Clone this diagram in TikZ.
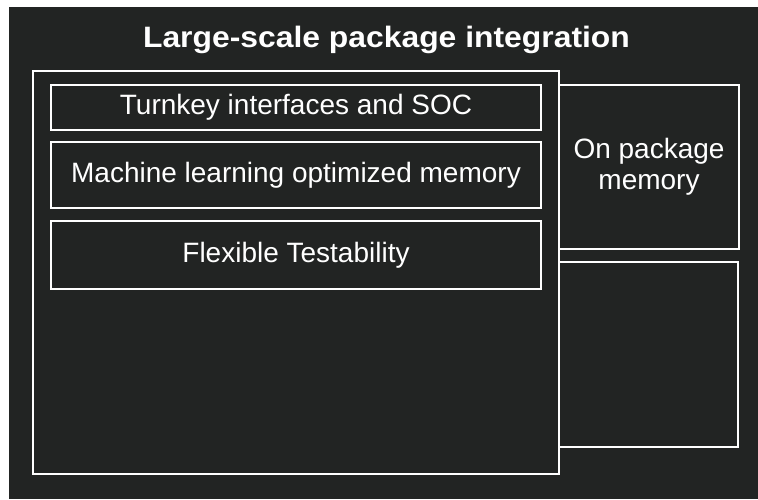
\documentclass[tikz,border=0pt]{standalone}
\usepackage{fontspec}
\setmainfont{Liberation Sans}
\newfontfamily\titlefont[FakeStretch=1.08]{Liberation Sans}
\usetikzlibrary{positioning}

\definecolor{chipbg}{RGB}{34,36,35}

\tikzset{
  blk/.style={draw=white, line width=2.5pt, inner sep=0pt, outer sep=0pt,
    text=white, font=\fontsize{28}{31}\selectfont, align=center},
  ttl/.style={text=white, font=\titlefont\fontsize{29.5}{31}\selectfont\bfseries}
}

\begin{document}
\begin{tikzpicture}[x=1pt,y=-1pt]
\useasboundingbox (0,0) rectangle (758,499);
\fill[white] (0,0) rectangle (758,499);
\fill[chipbg] (9,7) rectangle (758,499);

\node[ttl, anchor=base] (title) at (386.5,47.5) {Large-scale package integration};

% package outline
\node[blk, minimum width=526pt, minimum height=403pt] (pkg) at (296,272.5) {};

\node[blk, minimum width=490pt, minimum height=45pt] (soc) at (296,107.5) {Turnkey interfaces and SOC};
\node[blk, minimum width=490pt, minimum height=66pt] (mlmem) at (296,175) {Machine learning optimized memory};
\node[blk, minimum width=490pt, minimum height=68pt] (test) at (296,255) {Flexible Testability};

% memory side
\node[blk, minimum width=180pt, minimum height=164pt] (onmem) at (649,167) {On package\\memory};
\node[blk, minimum width=179pt, minimum height=185pt] (spare) at (648.5,354.5) {};

\end{tikzpicture}
\end{document}
